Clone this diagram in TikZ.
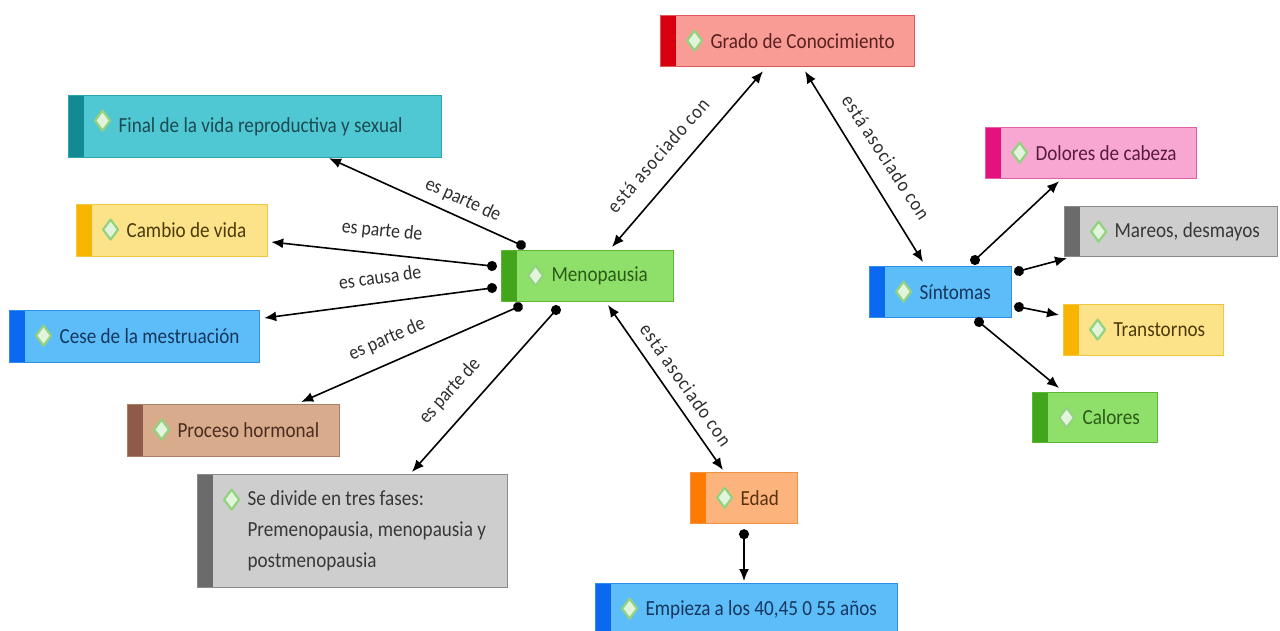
\documentclass[tikz,border=0pt]{standalone}
\usepackage{fontspec}
\setmainfont{Carlito}[FakeStretch=0.89]
\usetikzlibrary{arrows.meta,calc}

% strip / fill / border / text colours of the concept boxes
\definecolor{redS}{HTML}{D6000F}\definecolor{redF}{HTML}{F99C96}\definecolor{redB}{HTML}{E2585A}\definecolor{redT}{HTML}{5A2020}
\definecolor{tealS}{HTML}{138A93}\definecolor{tealF}{HTML}{4FC8D3}\definecolor{tealB}{HTML}{2AA5B0}\definecolor{tealT}{HTML}{1E4A52}
\definecolor{yelS}{HTML}{F8B500}\definecolor{yelF}{HTML}{FCE38A}\definecolor{yelB}{HTML}{F0C840}\definecolor{yelT}{HTML}{4D3A0A}
\definecolor{grnS}{HTML}{43A51B}\definecolor{grnF}{HTML}{8EE06A}\definecolor{grnB}{HTML}{5CB832}\definecolor{grnT}{HTML}{2B5A17}
\definecolor{bluS}{HTML}{0B68F0}\definecolor{bluF}{HTML}{5CBDF8}\definecolor{bluB}{HTML}{2F8EE8}\definecolor{bluT}{HTML}{16365E}
\definecolor{brnS}{HTML}{8F5B48}\definecolor{brnF}{HTML}{D8AB8C}\definecolor{brnB}{HTML}{B07D62}\definecolor{brnT}{HTML}{4A2C20}
\definecolor{gryS}{HTML}{6B6B6B}\definecolor{gryF}{HTML}{CECECE}\definecolor{gryB}{HTML}{8A8A8A}\definecolor{gryT}{HTML}{383838}
\definecolor{orgS}{HTML}{FF7B00}\definecolor{orgF}{HTML}{FCB47C}\definecolor{orgB}{HTML}{F09040}\definecolor{orgT}{HTML}{5A3210}
\definecolor{pnkS}{HTML}{E4127E}\definecolor{pnkF}{HTML}{F8A7D3}\definecolor{pnkB}{HTML}{E060A8}\definecolor{pnkT}{HTML}{5A1A3E}
\definecolor{dmdF}{HTML}{E3F4DD}\definecolor{dmdB}{HTML}{93D27E}
\definecolor{lblT}{HTML}{2E2E2E}

% box text: a paragraph as wide as the box, starting after strip and icon
\newcommand\ct[1]{\parbox{\boxw pt}{\raggedright\leftskip=50pt\relax #1\par}}

\tikzset{
  concept/.style={
    fill=#1F, draw=#1B, text=#1T, line width=1.2pt,
    font=\fontsize{21.5}{31}\selectfont,
    path picture={
      \fill[#1S] (path picture bounding box.north west)
        rectangle ([xshift=15pt]path picture bounding box.south west);
      \filldraw[fill=dmdF, draw=dmdB, line width=2.2pt, line join=round]
        ([xshift=34pt,yshift=-15pt]path picture bounding box.north west)
        -- ++(7.5,10) -- ++(-7.5,10) -- ++(-7.5,-10) -- cycle;
    }},
  box/.style 2 args={anchor=north west, minimum width=#1pt, minimum height=#2pt,
    inner sep=0pt, execute at begin node={\def\boxw{#1}}},
  lbl/.style={text=lblT, font=\fontsize{20}{22}\selectfont, inner sep=0pt},
  wide/.style={font=\fontsize{20}{22}\selectfont\addfontfeatures{LetterSpace=6}},
  link/.style={line width=1.6pt, shorten <=-5pt,
    {Circle[length=10pt]}-{Latex[length=12pt,width=10pt]}},
  assoc/.style={line width=1.6pt,
    {Latex[length=12pt,width=10pt]}-{Latex[length=12pt,width=10pt]}},
}

\begin{document}
\begin{tikzpicture}[x=1pt,y=-1pt]
\useasboundingbox (0,0) rectangle (1280,630);

% concept boxes
\node[concept=red,  box={254}{51}]  (grado)   at (660,15)  {\ct{Grado de Conocimiento}};
\node[concept=teal, box={373}{62}]  (final)   at (68,95)   {\ct{Final de la vida reproductiva y sexual}};
\node[concept=yel,  box={191}{52}]  (cambio)  at (76,204)  {\ct{Cambio de vida}};
\node[concept=grn,  box={172}{51}]  (meno)    at (501,250) {\ct{Menopausia}};
\node[concept=blu,  box={250}{52}]  (cese)    at (9,310)   {\ct{Cese de la mestruación}};
\node[concept=brn,  box={212}{52}]  (proceso) at (127,404) {\ct{Proceso hormonal}};
\node[concept=gry,  box={310}{113}] (fases)   at (197,474)
  {\ct{Se divide en tres fases:\\ Premenopausia, menopausia y\\ postmenopausia}};
\node[concept=org,  box={107}{51}]  (edad)    at (690,472) {\ct{Edad}};
\node[concept=blu,  box={302}{52}]  (empieza) at (595,583) {\ct{Empieza a los 40,45 0 55 años}};
\node[concept=blu,  box={142}{51}]  (sint)    at (869,266) {\ct{Síntomas}};
\node[concept=pnk,  box={211}{51}]  (dolores) at (985,127) {\ct{Dolores de cabeza}};
\node[concept=gry,  box={213}{50}]  (mareos)  at (1064,206) {\ct{Mareos, desmayos}};
\node[concept=yel,  box={160}{51}]  (trans)   at (1063,304) {\ct{Transtornos}};
\node[concept=grn,  box={125}{50}]  (calores) at (1032,392) {\ct{Calores}};

% links out of Menopausia
\draw[link] ($(meno.north west)+(20,-5)$)  -- ($(final.south west)+(261,0)$);
\draw[link] ($(meno.north west)+(-9,16)$)  -- ($(cambio.north east)+(3,38)$);
\draw[link] ($(meno.north west)+(-9,38)$)  -- ($(cese.north east)+(4,8)$);
\draw[link] ($(meno.north west)+(17,57)$)  -- ($(proceso.north east)+(-39,-2)$);
\draw[link] ($(meno.north west)+(55,60)$)  -- ($(fases.north west)+(215,-2)$);
\draw[assoc] ($(meno.north west)+(111,-3)$) -- ($(grado.south west)+(103,4)$);
\draw[assoc] ($(meno.north west)+(107,55)$) -- ($(edad.north west)+(33,-2)$);
\draw[assoc] ($(grado.south west)+(145,4)$) -- ($(sint.north west)+(54,-4)$);
\draw[link] ($(edad.south west)+(54,10)$)  -- ($(empieza.north west)+(149,-2)$);

% links out of Síntomas
\draw[link] ($(sint.north west)+(106,-6)$) -- ($(dolores.south west)+(74,2)$);
\draw[link] ($(sint.north west)+(150,5)$)  -- ($(mareos.south west)+(3,1)$);
\draw[link] ($(sint.north west)+(150,41)$) -- ($(trans.north west)+(-4,11)$);
\draw[link] ($(sint.north west)+(110,56)$) -- ($(calores.north west)+(27,-4)$);

% link labels
\node[lbl, rotate=-24.5] (l-final)   at (463,200) {es parte de};
\node[lbl, rotate=-6]    (l-cambio)  at (382,231) {es parte de};
\node[lbl, rotate=8]     (l-cese)    at (380,277) {es causa de};
\node[lbl, rotate=23.5]  (l-proceso) at (387,339) {es parte de};
\node[lbl, rotate=48]    (l-fases)   at (450,391) {es parte de};
\node[lbl, wide, rotate=49]  (l-grado) at (658,155) {está asociado con};
\node[lbl, wide, rotate=-57] (l-sint)  at (886,157) {está asociado con};
\node[lbl, wide, rotate=-55] (l-edad)  at (686,385) {está asociado con};
\end{tikzpicture}
\end{document}
